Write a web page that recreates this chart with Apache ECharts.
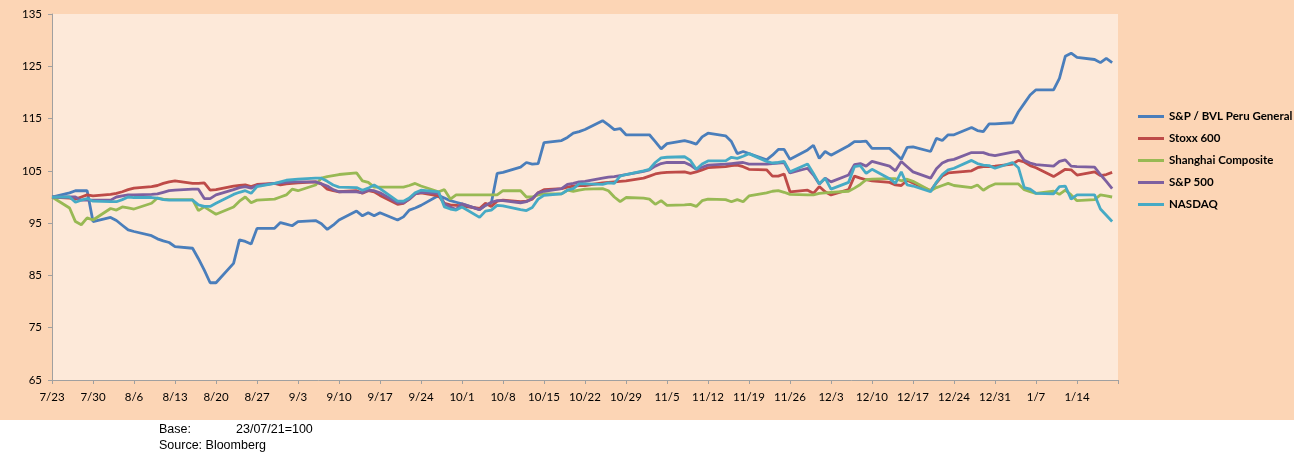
<!DOCTYPE html>
<html>
<head>
<meta charset="utf-8">
<script src="https://cdn.jsdelivr.net/npm/echarts@6.0.0/dist/echarts.min.js"></script>
<style>
html, body { margin: 0; padding: 0; background: #ffffff; }
#chart { width: 1294px; height: 452px; }
</style>
</head>
<body>
<div id="chart"></div>
<script>
// trading days (2021-07-23 .. 2022-01-20)
var dates = ['7/23',
  '7/26','7/27','7/28','7/29','7/30',
  '8/2','8/3','8/4','8/5','8/6',
  '8/9','8/10','8/11','8/12','8/13',
  '8/16','8/17','8/18','8/19','8/20',
  '8/23','8/24','8/25','8/26','8/27',
  '8/30','8/31','9/1','9/2','9/3',
  '9/6','9/7','9/8','9/9','9/10',
  '9/13','9/14','9/15','9/16','9/17',
  '9/20','9/21','9/22','9/23','9/24',
  '9/27','9/28','9/29','9/30','10/1',
  '10/4','10/5','10/6','10/7','10/8',
  '10/11','10/12','10/13','10/14','10/15',
  '10/18','10/19','10/20','10/21','10/22',
  '10/25','10/26','10/27','10/28','10/29',
  '11/1','11/2','11/3','11/4','11/5',
  '11/8','11/9','11/10','11/11','11/12',
  '11/15','11/16','11/17','11/18','11/19',
  '11/22','11/23','11/24','11/25','11/26',
  '11/29','11/30','12/1','12/2','12/3',
  '12/6','12/7','12/8','12/9','12/10',
  '12/13','12/14','12/15','12/16','12/17',
  '12/20','12/21','12/22','12/23','12/24',
  '12/27','12/28','12/29','12/30','12/31',
  '1/3','1/4','1/5','1/6','1/7',
  '1/10','1/11','1/12','1/13','1/14',
  '1/17','1/18','1/19','1/20'];

var xTickLabels = ['7/23','7/30','8/6','8/13','8/20','8/27','9/3','9/10','9/17','9/24',
  '10/1','10/8','10/15','10/22','10/29','11/5','11/12','11/19','11/26','12/3',
  '12/10','12/17','12/24','12/31','1/7','1/14'];

var names = ['S&P / BVL Peru General', 'Stoxx 600', 'Shanghai Composite', 'S&P 500', 'NASDAQ'];

var bvl = [100.0,
  100.8,101.2,101.2,101.2,95.3,
  96.1,95.5,94.6,93.7,93.4,
  92.6,92.0,91.6,91.3,90.5,
  90.2,88.2,86.0,83.6,83.6,
  87.3,91.8,91.5,91.0,94.0,
  94.0,95.1,94.8,94.5,95.3,
  95.5,94.9,93.8,94.6,95.6,
  97.3,96.4,97.0,96.4,97.0,
  95.6,96.2,97.5,97.9,98.4,
  100.3,99.8,99.3,99.0,98.7,
  97.6,98.4,98.8,104.5,104.7,
  105.7,106.6,106.3,106.4,110.4,
  110.8,111.4,112.2,112.5,112.9,
  114.6,113.8,112.9,113.1,111.9,
  111.9,111.9,110.6,109.2,110.2,
  110.8,110.5,110.1,111.5,112.2,
  111.7,110.6,108.3,108.7,108.3,
  107.1,108.0,109.1,109.1,107.2,
  109.0,109.9,107.4,108.7,108.0,
  109.8,110.6,110.6,110.7,109.3,
  109.3,108.3,107.2,109.5,109.6,
  108.7,111.2,110.8,111.9,111.9,
  113.3,112.7,112.5,114.0,114.0,
  114.2,116.3,117.9,119.5,120.5,
  120.5,122.7,126.9,127.5,126.7,
  126.3,125.7,126.5,125.7];

var stoxx = [100.0,
  99.8,99.6,100.0,100.4,100.2,
  100.5,100.7,101.0,101.4,101.7,
  102.0,102.2,102.6,102.9,103.1,
  102.6,102.6,102.7,101.3,101.4,
  102.1,102.2,102.3,102.0,102.4,
  102.6,102.3,102.5,102.6,102.7,
  102.9,102.5,101.5,101.2,101.0,
  101.2,100.7,101.2,101.0,100.3,
  98.6,98.8,99.6,100.6,100.8,
  100.2,98.8,98.5,98.4,98.3,
  97.8,98.8,98.2,99.2,99.4,
  99.1,99.2,99.6,100.8,101.4,
  101.6,101.9,102.1,102.2,102.2,
  102.7,102.8,102.9,103.0,103.1,
  103.6,104.0,104.4,104.6,104.7,
  104.8,104.5,104.8,105.2,105.6,
  105.8,106.0,106.1,105.8,105.3,
  105.2,104.0,104.0,104.4,101.0,
  101.3,100.7,102.0,101.0,100.4,
  101.4,104.0,103.6,103.3,103.1,
  102.8,102.3,102.2,103.2,102.7,
  101.2,102.7,104.0,104.6,104.7,
  105.0,105.6,105.8,105.8,105.9,
  106.3,107.0,106.7,106.0,105.6,
  103.9,104.6,105.3,105.2,104.2,
  104.8,104.1,104.3,104.7];

var shanghai = [100.0,
  97.9,95.3,94.7,96.0,95.6,
  97.8,97.5,98.1,97.9,97.7,
  98.8,99.8,99.6,99.5,99.5,
  99.5,97.4,98.1,97.4,96.7,
  98.1,99.2,100.0,98.9,99.4,
  99.6,100.0,100.4,101.5,101.2,
  102.3,103.6,103.9,104.1,104.3,
  104.6,103.1,102.8,101.9,101.9,
  101.9,101.9,102.2,102.6,102.1,
  101.0,101.4,99.6,100.4,100.4,
  100.4,100.4,100.4,100.4,101.2,
  101.2,100.0,100.0,100.4,100.6,
  100.6,101.3,101.1,101.3,101.5,
  101.6,101.2,100.0,99.1,99.9,
  99.8,99.6,98.6,99.3,98.4,
  98.5,98.6,98.2,99.3,99.6,
  99.5,99.1,99.5,99.1,100.2,
  100.8,101.1,101.2,100.9,100.5,
  100.4,100.4,100.7,100.8,100.9,
  101.1,101.7,102.4,103.3,103.4,
  103.5,103.5,103.1,103.4,103.0,
  101.2,101.8,102.2,102.6,102.2,
  101.8,102.3,101.3,102.0,102.5,
  102.5,102.5,101.4,101.0,100.7,
  101.1,100.5,101.3,100.4,99.3,
  99.5,100.4,100.2,100.0];

var sp500 = [100.0,
  100.0,100.0,99.4,99.4,99.4,
  99.4,100.0,100.2,100.4,100.4,
  100.5,100.6,100.9,101.2,101.3,
  101.5,101.5,99.7,99.7,100.4,
  101.4,101.8,102.0,101.7,102.2,
  102.6,102.7,102.8,102.9,102.9,
  102.9,102.5,102.1,101.4,101.0,
  101.0,100.8,101.3,101.2,100.8,
  98.9,98.9,99.6,100.6,100.9,
  100.7,98.7,98.1,97.6,98.7,
  97.6,98.4,99.0,99.3,99.3,
  98.9,99.1,99.7,100.8,101.1,
  101.6,102.4,102.6,102.9,103.0,
  103.6,103.8,103.9,104.1,104.3,
  104.9,105.2,105.9,106.4,106.6,
  106.6,106.1,105.3,105.7,106.1,
  106.3,106.4,106.5,106.6,106.3,
  106.3,106.4,106.5,106.6,104.6,
  105.5,104.2,102.5,103.6,102.9,
  104.2,106.2,106.4,105.9,106.8,
  105.9,105.0,106.8,105.8,104.8,
  103.6,105.4,106.5,107.0,107.2,
  108.5,108.5,108.5,108.1,107.9,
  108.6,108.7,107.0,106.5,106.2,
  105.9,106.8,107.1,105.9,105.8,
  105.7,104.3,103.0,101.6];

var nasdaq = [100.0,
  100.0,99.0,99.4,99.7,99.2,
  99.1,99.1,99.5,100.0,99.9,
  99.9,99.8,99.5,99.4,99.4,
  99.4,98.5,98.2,98.2,98.8,
  100.5,100.9,101.2,100.7,102.0,
  102.6,102.9,103.2,103.3,103.4,
  103.6,103.6,103.0,102.3,101.9,
  101.8,101.3,101.7,102.3,101.6,
  99.2,99.2,99.8,100.8,101.3,
  101.0,98.1,97.7,97.5,98.1,
  96.1,97.3,97.5,98.4,98.3,
  97.6,97.4,98.0,99.6,100.3,
  100.6,101.3,101.6,102.5,102.5,
  102.4,102.7,102.6,104.0,104.3,
  105.0,105.3,106.6,107.5,107.6,
  107.7,107.0,105.3,106.3,106.9,
  106.9,107.6,107.4,107.8,108.3,
  106.8,106.5,106.6,106.8,104.8,
  106.3,104.5,102.5,103.6,101.5,
  102.8,105.8,106.0,104.5,105.3,
  103.5,102.6,104.8,102.3,102.1,
  101.0,102.8,104.3,105.2,105.5,
  107.0,106.4,106.1,106.0,105.5,
  106.6,105.6,101.8,101.5,100.7,
  100.6,102.0,102.1,99.6,100.4,
  100.4,97.7,96.5,95.3];

var colors = ['#4A7EBB', '#BE4B48', '#98B954', '#7D60A0', '#46AAC5'];

// days since the base date, so the x axis is a real date scale
function dayOffset(s) {
  var p = s.split('/');
  var m = +p[0], d = +p[1];
  var y = m >= 7 ? 2021 : 2022;
  return Math.round((Date.UTC(y, m - 1, d) - Date.UTC(2021, 6, 23)) / 86400000);
}
var days = dates.map(dayOffset);

function pairs(values) {
  return values.map(function (v, i) { return [days[i], v]; });
}

var seriesData = [bvl, stoxx, shanghai, sp500, nasdaq];

var chart = echarts.init(document.getElementById('chart'));
chart.setOption({
  animation: false,
  backgroundColor: '#ffffff',
  color: colors,
  graphic: [
    {
      type: 'rect', z: -10, silent: true,
      shape: { x: 0, y: 0, width: 1294, height: 420 },
      style: { fill: '#FCD5B5' }
    },
    {
      type: 'text', left: 159, top: 423.5,
      style: { text: 'Base:', font: '12.5px "Liberation Sans"', fill: '#000' }
    },
    {
      type: 'text', left: 236, top: 423.5,
      style: { text: '23/07/21=100', font: '12.5px "Liberation Sans"', fill: '#000' }
    },
    {
      type: 'text', left: 159, top: 439.5,
      style: { text: 'Source: Bloomberg', font: '12.5px "Liberation Sans"', fill: '#000' }
    }
  ],
  grid: {
    left: 52, right: 176, top: 14, bottom: 72,
    show: true, backgroundColor: '#FDE9D9', borderWidth: 0,
    outerBoundsMode: 'none'
  },
  legend: {
    orient: 'vertical',
    left: 1133, top: 104.5,
    icon: 'rect',
    itemWidth: 26, itemHeight: 3, itemGap: 8,
    textStyle: { fontFamily: 'Lato', fontWeight: 'bold', fontSize: 11.5, color: '#000', lineHeight: 14 },
    data: names
  },
  xAxis: {
    type: 'value',
    min: 0, max: 182, interval: 7,
    splitLine: { show: false },
    axisLine: { show: true, lineStyle: { color: '#A0A0A0', width: 1 } },
    axisTick: { show: true, length: 4, lineStyle: { color: '#A0A0A0' } },
    axisLabel: {
      margin: 11, color: '#000', fontFamily: 'Lato', fontSize: 11.5,
      showMaxLabel: true,
      formatter: function (v) { return xTickLabels[Math.round(v / 7)] || ''; }
    }
  },
  yAxis: {
    type: 'value',
    min: 65, max: 135, interval: 10,
    splitLine: { show: false },
    axisLine: { show: true, lineStyle: { color: '#A0A0A0', width: 1 } },
    axisTick: { show: true, length: 4, lineStyle: { color: '#A0A0A0' } },
    axisLabel: { margin: 10, color: '#000', fontFamily: 'Lato', fontSize: 11.5 }
  },
  series: seriesData.map(function (vals, i) {
    return {
      name: names[i],
      type: 'line',
      symbol: 'none',
      lineStyle: { width: 2.8, color: colors[i] },
      itemStyle: { color: colors[i] },
      data: pairs(vals)
    };
  })
});
</script>
</body>
</html>
